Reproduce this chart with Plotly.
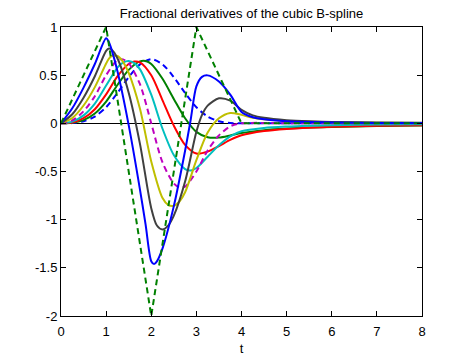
import plotly.graph_objects as go

# Orders of the fractional derivative and their styles
orders = ["0", "0.25", "0.5", "0.75", "1", "1.25", "1.5", "1.75", "2"]

t_a0 = [0, 0.25, 0.5, 0.75, 1, 1.25, 1.5, 1.75, 2, 2.25, 2.5, 2.75, 3, 3.25, 3.5, 3.75, 4, 5, 6, 7, 8]
y_a0 = [0, 0.0026, 0.0208, 0.0703, 0.1667, 0.3151, 0.4792, 0.6120, 0.6667, 0.6120, 0.4792, 0.3151,
        0.1667, 0.0703, 0.0208, 0.0026, 0, 0, 0, 0, 0]

t_a025 = [0, 0.25, 0.5, 0.75, 1, 1.25, 1.5, 1.75, 1.875, 2, 2.25, 2.5, 2.75, 3, 3.25, 3.5, 3.75, 4,
          4.5, 5, 5.5, 6, 7, 8]
y_a025 = [0, 0.0050, 0.0336, 0.1025, 0.2261, 0.3976, 0.5551, 0.6435, 0.6472, 0.6166, 0.4622, 0.2531,
          0.0522, -0.0889, -0.1447, -0.1480, -0.1263, -0.1005, -0.0708, -0.0547, -0.0444, -0.0372,
          -0.0278, -0.0220]

t_a05 = [0, 0.25, 0.5, 0.75, 1, 1.25, 1.5, 1.625, 1.75, 2, 2.25, 2.5, 2.75, 3, 3.25, 3.5, 3.75, 4,
         4.5, 5, 5.5, 6, 7, 8]
y_a05 = [0, 0.0094, 0.0532, 0.1466, 0.3009, 0.4880, 0.6164, 0.6412, 0.6327, 0.4986, 0.2388, -0.0241,
         -0.2231, -0.3126, -0.2939, -0.2359, -0.1723, -0.1242, -0.0804, -0.0588, -0.0455, -0.0367,
         -0.0259, -0.0195]

t_a075 = [0, 0.25, 0.5, 0.75, 1, 1.25, 1.375, 1.5, 1.625, 1.75, 2, 2.25, 2.5, 2.75, 2.875, 3, 3.25,
          3.5, 3.75, 4, 4.5, 5, 5.5, 6, 7, 8]
y_a075 = [0, 0.0173, 0.0825, 0.2053, 0.3923, 0.5787, 0.6304, 0.6469, 0.6246, 0.5604, 0.2969, -0.0562,
          -0.3295, -0.4747, -0.4902, -0.4639, -0.3464, -0.2280, -0.1354, -0.0825, -0.0486, -0.0335,
          -0.0248, -0.0193, -0.0128, -0.0092]

t_a1 = [0, 0.25, 0.5, 0.75, 1, 1.25, 1.375, 1.5, 1.75, 2, 2.25, 2.5, 2.625, 2.75, 3, 3.25, 3.5, 3.75,
        4, 5, 6, 7, 8]
y_a1 = [0, 0.0313, 0.125, 0.2813, 0.5, 0.6563, 0.6641, 0.625, 0.4063, 0, -0.4063, -0.625, -0.6641,
        -0.6563, -0.5, -0.2813, -0.125, -0.0313, 0, 0, 0, 0, 0]

t_a125 = [0, 0.25, 0.5, 0.75, 1, 1.0625, 1.125, 1.25, 1.375, 1.5, 1.75, 2, 2.25, 2.375, 2.5, 2.625,
          2.75, 3, 3.25, 3.5, 3.75, 4, 4.25, 4.5, 5, 5.5, 6, 7, 8]
y_a125 = [0, 0.0550, 0.1849, 0.3758, 0.6218, 0.6719, 0.6987, 0.6990, 0.6386, 0.5247, 0.1523, -0.3957,
          -0.7754, -0.8467, -0.8569, -0.8118, -0.7159, -0.3829, -0.0961, 0.0521, 0.1077, 0.0878,
          0.0569, 0.0414, 0.0252, 0.0169, 0.0122, 0.0072, 0.0047]

t_a15 = [0, 0.25, 0.5, 0.75, 1, 1.0625, 1.125, 1.25, 1.5, 1.75, 2, 2.125, 2.25, 2.375, 2.5, 2.75, 3,
         3.125, 3.25, 3.5, 3.75, 4, 4.25, 4.5, 5, 5.5, 6, 7, 8]
y_a15 = [0, 0.0940, 0.2660, 0.4886, 0.7523, 0.7769, 0.7646, 0.6752, 0.3181, -0.2129, -0.8813, -1.0608,
         -1.1022, -1.0617, -0.9586, -0.6038, -0.0884, 0.0874, 0.1838, 0.2595, 0.2351, 0.1399, 0.0830,
         0.0576, 0.0328, 0.0210, 0.0146, 0.0080, 0.0050]

t_a175 = [0, 0.25, 0.5, 0.75, 1, 1.0625, 1.125, 1.25, 1.5, 1.75, 1.875, 2, 2.0625, 2.125, 2.25, 2.5,
          2.75, 2.875, 3, 3.125, 3.25, 3.5, 3.75, 4, 4.25, 4.5, 5, 5.5, 6, 7, 8]
y_a175 = [0, 0.1560, 0.3711, 0.6160, 0.8826, 0.8418, 0.7602, 0.5425, -0.0192, -0.6876, -1.0512,
          -1.4312, -1.4614, -1.4324, -1.2979, -0.8595, -0.2843, 0.0397, 0.3836, 0.4825, 0.4979,
          0.4336, 0.2983, 0.1187, 0.0630, 0.0415, 0.0221, 0.0134, 0.0090, 0.0047, 0.0028]

t_a2 = [0, 1, 2, 3, 4, 8]
y_a2 = [0, 1, -2, 1, 0, 0]

x_ticks = [0, 1, 2, 3, 4, 5, 6, 7, 8]
y_ticks = [-2, -1.5, -1, -0.5, 0, 0.5, 1]
y_tick_labels = ["-2", "-1.5", "-1", "-0.5", "0", "0.5", "1"]

series = [
    (t_a0, y_a0, "rgb(0,0,255)", "6px,4px", "spline"),
    (t_a025, y_a025, "rgb(0,128,0)", "solid", "spline"),
    (t_a05, y_a05, "rgb(255,0,0)", "solid", "spline"),
    (t_a075, y_a075, "rgb(0,191,191)", "solid", "spline"),
    (t_a1, y_a1, "rgb(191,0,191)", "6px,4px", "spline"),
    (t_a125, y_a125, "rgb(191,191,0)", "solid", "spline"),
    (t_a15, y_a15, "rgb(64,64,64)", "solid", "spline"),
    (t_a175, y_a175, "rgb(0,0,255)", "solid", "spline"),
    (t_a2, y_a2, "rgb(0,128,0)", "6px,4px", "linear"),
]

fig = go.Figure()
for (tx, ty, col, dash, shape), name in zip(series, orders):
    line = dict(color=col, width=2, dash=dash, shape=shape)
    if shape == "spline":
        line["smoothing"] = 0.8
    fig.add_trace(go.Scatter(x=tx, y=ty, mode="lines", name="alpha=" + name, line=line,
                             showlegend=False, hoverinfo="skip"))

W, H = 466, 356
font = dict(family="Liberation Sans, Arial, sans-serif", size=13, color="black")
fig.update_layout(
    width=W, height=H,
    margin=dict(l=61, r=44, t=27, b=40),
    paper_bgcolor="white", plot_bgcolor="white",
    font=font,
    title=dict(text="Fractional derivatives of the cubic B-spline", x=0.5, xref="paper",
               y=1 - 13.5 / H, yref="container", xanchor="center", yanchor="middle",
               font=dict(family=font["family"], size=13, color="black")),
    xaxis=dict(range=[0, 8], tickvals=x_ticks, ticks="inside", ticklen=5, tickcolor="black",
               showline=True, linecolor="black", linewidth=1, mirror="ticks",
               showgrid=False, zeroline=False, ticklabelstandoff=3, automargin=False,
               title=dict(text="t", standoff=8, font=font)),
    yaxis=dict(range=[-2, 1], tickvals=y_ticks, ticktext=y_tick_labels, ticks="inside",
               ticklen=5, tickcolor="black", showline=True, linecolor="black", linewidth=1,
               mirror="ticks", showgrid=False, zeroline=True, zerolinecolor="black",
               zerolinewidth=1, automargin=False),
)

# remove the page's default body margin so the figure sits at the window's corner
fig.write_html("out.html", config={"displayModeBar": False, "staticPlot": True},
               post_script="document.body.style.margin='0';")
